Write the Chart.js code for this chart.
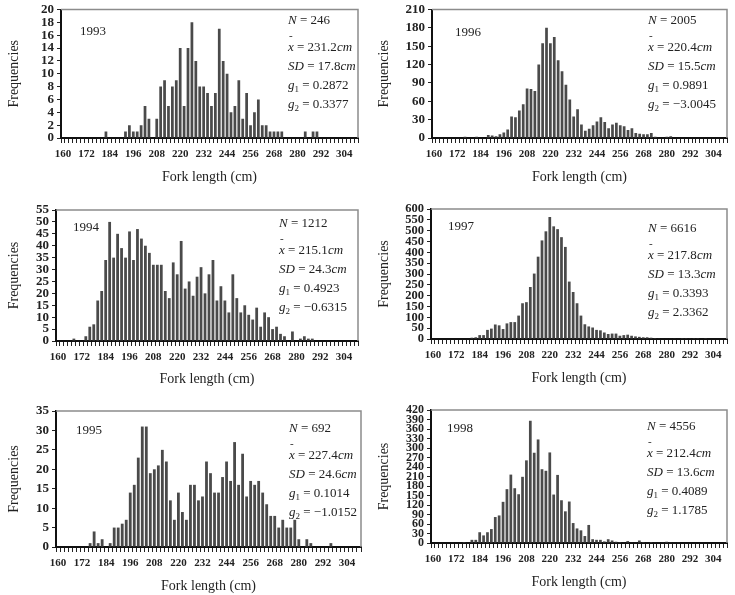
<!DOCTYPE html>
<html lang="en">
<head>
<meta charset="utf-8" />
<title>Fork length frequencies 1993-1998</title>
<script src="https://cdnjs.cloudflare.com/ajax/libs/Chart.js/4.4.0/chart.umd.js"></script>
<style>
  body { margin: 0; background: #fff; width: 735px; height: 595px; position: relative; overflow: hidden; font-family: 'Liberation Serif', 'Times New Roman', serif; color: #222; }
  .panel { position: absolute; }
  .panel canvas { position: absolute; left: 0; top: 0; }
  .year { position: absolute; font-size: 13px; line-height: 16px; }
  .stats { position: absolute; font-size: 13px; line-height: 19px; white-space: nowrap; }
  .stats sub { font-size: 9px; vertical-align: -3px; line-height: 0; font-style: normal; }
  .stats .xl { margin-top: 8px; }
  .xbar { position: relative; }
  .xbar::before { content: '-'; position: absolute; left: 1px; top: -13px; font-size: 11px; font-style: normal; }
</style>
</head>
<body>
<script>
const bins = [160,162,164,166,168,170,172,174,176,178,180,182,184,186,188,190,192,194,196,198,
              200,202,204,206,208,210,212,214,216,218,220,222,224,226,228,230,232,234,236,238,
              240,242,244,246,248,250,252,254,256,258,260,262,264,266,268,270,272,274,276,278,
              280,282,284,286,288,290,292,294,296,298,300,302,304,306,308,310];

const years = ['1993', '1994', '1995', '1996', '1997', '1998'];

const freq1993 = [0,0,0,0,0,0,0,0,0,0, 0,1,0,0,0,0,1,2,1,1, 2,5,3,0,3,8,9,5,8,9,
                  14,5,14,18,12,8,8,7,5,7, 17,12,10,4,5,9,3,7,2,4, 6,2,2,1,1,1,1,0,0,0,
                  0,0,1,0,1,1,0,0,0,0, 0,0,0,0,0,0];
const freq1994 = [0,0,0,0,1,0,0,2,6,7, 17,21,34,50,35,45,39,35,46,34, 47,43,40,37,32,32,32,21,18,33,
                  28,42,22,25,19,27,31,20,28,34, 17,23,17,12,28,18,12,15,11,9, 14,6,12,10,5,6,3,2,0,4,
                  0,1,2,1,1,0,0,0,0,0, 0,0,0,0,0,0];
const freq1995 = [0,0,0,0,0,0,0,0,1,4, 1,2,0,1,5,5,6,7,14,16, 23,31,31,19,20,21,25,22,12,7,
                  14,9,7,16,16,12,13,22,19,14, 14,18,22,17,27,16,24,13,17,16, 17,14,11,8,8,5,7,5,5,7,
                  2,0,2,1,0,0,0,0,1,0, 0,0,0,0,0,0];
const freq1996 = [0,0,1,0,0,1,0,0,2,0, 1,2,1,1,5,4,3,6,9,14, 35,34,45,55,81,80,77,120,155,180,
                  155,165,127,109,87,63,35,47,22,12, 15,21,27,34,26,16,22,25,21,19, 13,16,8,7,6,6,8,2,1,1,
                  2,3,1,1,1,0,1,0,1,1, 0,1,0,0,1,0];
const freq1997 = [0,0,0,0,0,0,0,0,0,0, 6,8,18,18,42,48,67,63,46,72, 78,78,108,165,170,240,302,380,455,497,
                  563,520,507,470,425,265,217,165,108,68, 58,53,42,40,30,23,25,25,15,18, 20,15,12,10,8,8,6,4,3,2,
                  2,2,3,2,1,1,3,1,1,0, 1,0,0,0,0,0];
const freq1998 = [0,0,0,0,0,2,0,0,3,0, 10,10,34,24,34,44,82,87,130,170, 216,173,154,209,261,386,285,327,233,228,
                  286,153,215,135,100,131,63,46,40,22, 57,12,10,10,5,12,8,4,3,2, 6,2,2,8,3,2,3,1,2,1,
                  4,1,2,1,0,0,0,0,0,0, 0,0,0,0,0,0];

const nValues = ['246', '1212', '692', '2005', '6616', '4556'];
const means = ['231.2', '215.1', '227.4', '220.4', '217.8', '212.4'];
const sds = ['17.8', '24.3', '24.6', '15.5', '13.3', '13.6'];
const g1s = ['0.2872', '0.4923', '0.1014', '0.9891', '0.3393', '0.4089'];
const g2s = ['0.3377', '\u22120.6315', '\u22121.0152', '\u22123.0045', '2.3362', '1.1785'];
const yMax = [20, 55, 35, 210, 600, 420];
const yStep = [2, 5, 5, 30, 50, 30];

const series = [freq1993, freq1994, freq1995, freq1996, freq1997, freq1998];

// panel boxes on the page and where the plot area sits inside each
const layouts = [
  {left: 0,   top: 0,   w: 365, h: 190, yW: 61, padTop: 7,  padRight: 7, xH: 52, titlePad: 4.5, yFont: 13, yearX: 80, yearY: 31, statsX: 288, statsY: 19},
  {left: 0,   top: 195, w: 365, h: 195, yW: 56, padTop: 15, padRight: 7, xH: 49, titlePad: 2.5, yFont: 13, yearX: 73, yearY: 32, statsX: 279, statsY: 27},
  {left: 0,   top: 395, w: 365, h: 200, yW: 56, padTop: 16, padRight: 4, xH: 48, titlePad: 0.5, yFont: 13, yearX: 76, yearY: 35, statsX: 289, statsY: 32},
  {left: 370, top: 0,   w: 365, h: 190, yW: 62, padTop: 7,  padRight: 8, xH: 52, titlePad: 4.5, yFont: 13, yearX: 85, yearY: 32, statsX: 278, statsY: 19},
  {left: 370, top: 195, w: 365, h: 195, yW: 61, padTop: 14, padRight: 8, xH: 51, titlePad: 3.5, yFont: 12.5, yearX: 78, yearY: 31, statsX: 278, statsY: 32},
  {left: 370, top: 395, w: 365, h: 200, yW: 61, padTop: 15, padRight: 8, xH: 52, titlePad: 4.5, yFont: 12, yearX: 77, yearY: 33, statsX: 277, statsY: 30}
];

const framePlugin = {
  id: 'frame',
  afterDraw(chart) {
    const {ctx, chartArea: a} = chart;
    ctx.save();
    ctx.strokeStyle = '#8c8c8c';
    ctx.lineWidth = 1.5;
    ctx.beginPath();
    ctx.moveTo(a.left, a.top);
    ctx.lineTo(a.right, a.top);
    ctx.lineTo(a.right, a.bottom);
    ctx.stroke();
    ctx.restore();
  }
};

const serif = "'Liberation Serif', 'Times New Roman', serif";

for (let p = 0; p < years.length; p++) {
  const L = layouts[p];
  const panel = document.createElement('div');
  panel.className = 'panel';
  panel.style.left = L.left + 'px';
  panel.style.top = L.top + 'px';
  panel.style.width = L.w + 'px';
  panel.style.height = L.h + 'px';

  const canvas = document.createElement('canvas');
  canvas.width = L.w;
  canvas.height = L.h;
  panel.appendChild(canvas);

  const year = document.createElement('div');
  year.className = 'year';
  year.style.left = L.yearX + 'px';
  year.style.top = (L.yearY - 8) + 'px';
  year.textContent = years[p];
  panel.appendChild(year);

  const stats = document.createElement('div');
  stats.className = 'stats';
  stats.style.left = L.statsX + 'px';
  stats.style.top = (L.statsY - 9.5) + 'px';
  stats.innerHTML =
    '<div><i>N</i> = ' + nValues[p] + '</div>' +
    '<div class="xl"><i class="xbar">x</i> = ' + means[p] + '<i>cm</i></div>' +
    '<div><i>SD</i> = ' + sds[p] + '<i>cm</i></div>' +
    '<div><i>g</i><sub>1</sub> = ' + g1s[p] + '</div>' +
    '<div><i>g</i><sub>2</sub> = ' + g2s[p] + '</div>';
  panel.appendChild(stats);

  document.body.appendChild(panel);

  new Chart(canvas, {
    type: 'bar',
    data: {
      labels: bins,
      datasets: [{
        data: series[p],
        backgroundColor: '#4a4a4a',
        borderWidth: 0,
        barPercentage: 0.7,
        categoryPercentage: 1.0
      }]
    },
    options: {
      responsive: false,
      animation: false,
      devicePixelRatio: 1,
      layout: { padding: { top: L.padTop, right: L.padRight, left: 0, bottom: 0 } },
      plugins: { legend: { display: false }, tooltip: { enabled: false } },
      scales: {
        x: {
          afterFit(scale) { scale.height = L.xH; },
          border: { color: '#111', width: 2 },
          grid: { drawOnChartArea: false, drawTicks: true, tickLength: 5, color: '#222', lineWidth: 1 },
          ticks: {
            autoSkip: false,
            maxRotation: 0,
            minRotation: 0,
            padding: 5,
            color: '#222',
            font: { family: serif, size: 11, weight: 'bold' },
            callback: (v, i) => (i % 6 === 0 ? String(bins[i]) : '')
          },
          title: {
            display: true,
            text: 'Fork length (cm)',
            color: '#222',
            font: { family: serif, size: 14 },
            padding: { top: 0, bottom: L.titlePad }
          }
        },
        y: {
          min: 0,
          max: yMax[p],
          afterFit(scale) { scale.width = L.yW; },
          border: { color: '#111', width: 2 },
          grid: { drawOnChartArea: false, drawTicks: true, tickLength: 4, color: '#222', lineWidth: 1 },
          ticks: {
            stepSize: yStep[p],
            maxTicksLimit: 30,
            autoSkip: false,
            padding: 3,
            color: '#222',
            font: { family: serif, size: L.yFont, weight: 'bold', lineHeight: 1 }
          },
          title: {
            display: true,
            text: 'Frequencies',
            color: '#222',
            font: { family: serif, size: 14 },
            padding: { top: 6, bottom: 0 }
          }
        }
      }
    },
    plugins: [framePlugin]
  });
}
</script>
</body>
</html>
